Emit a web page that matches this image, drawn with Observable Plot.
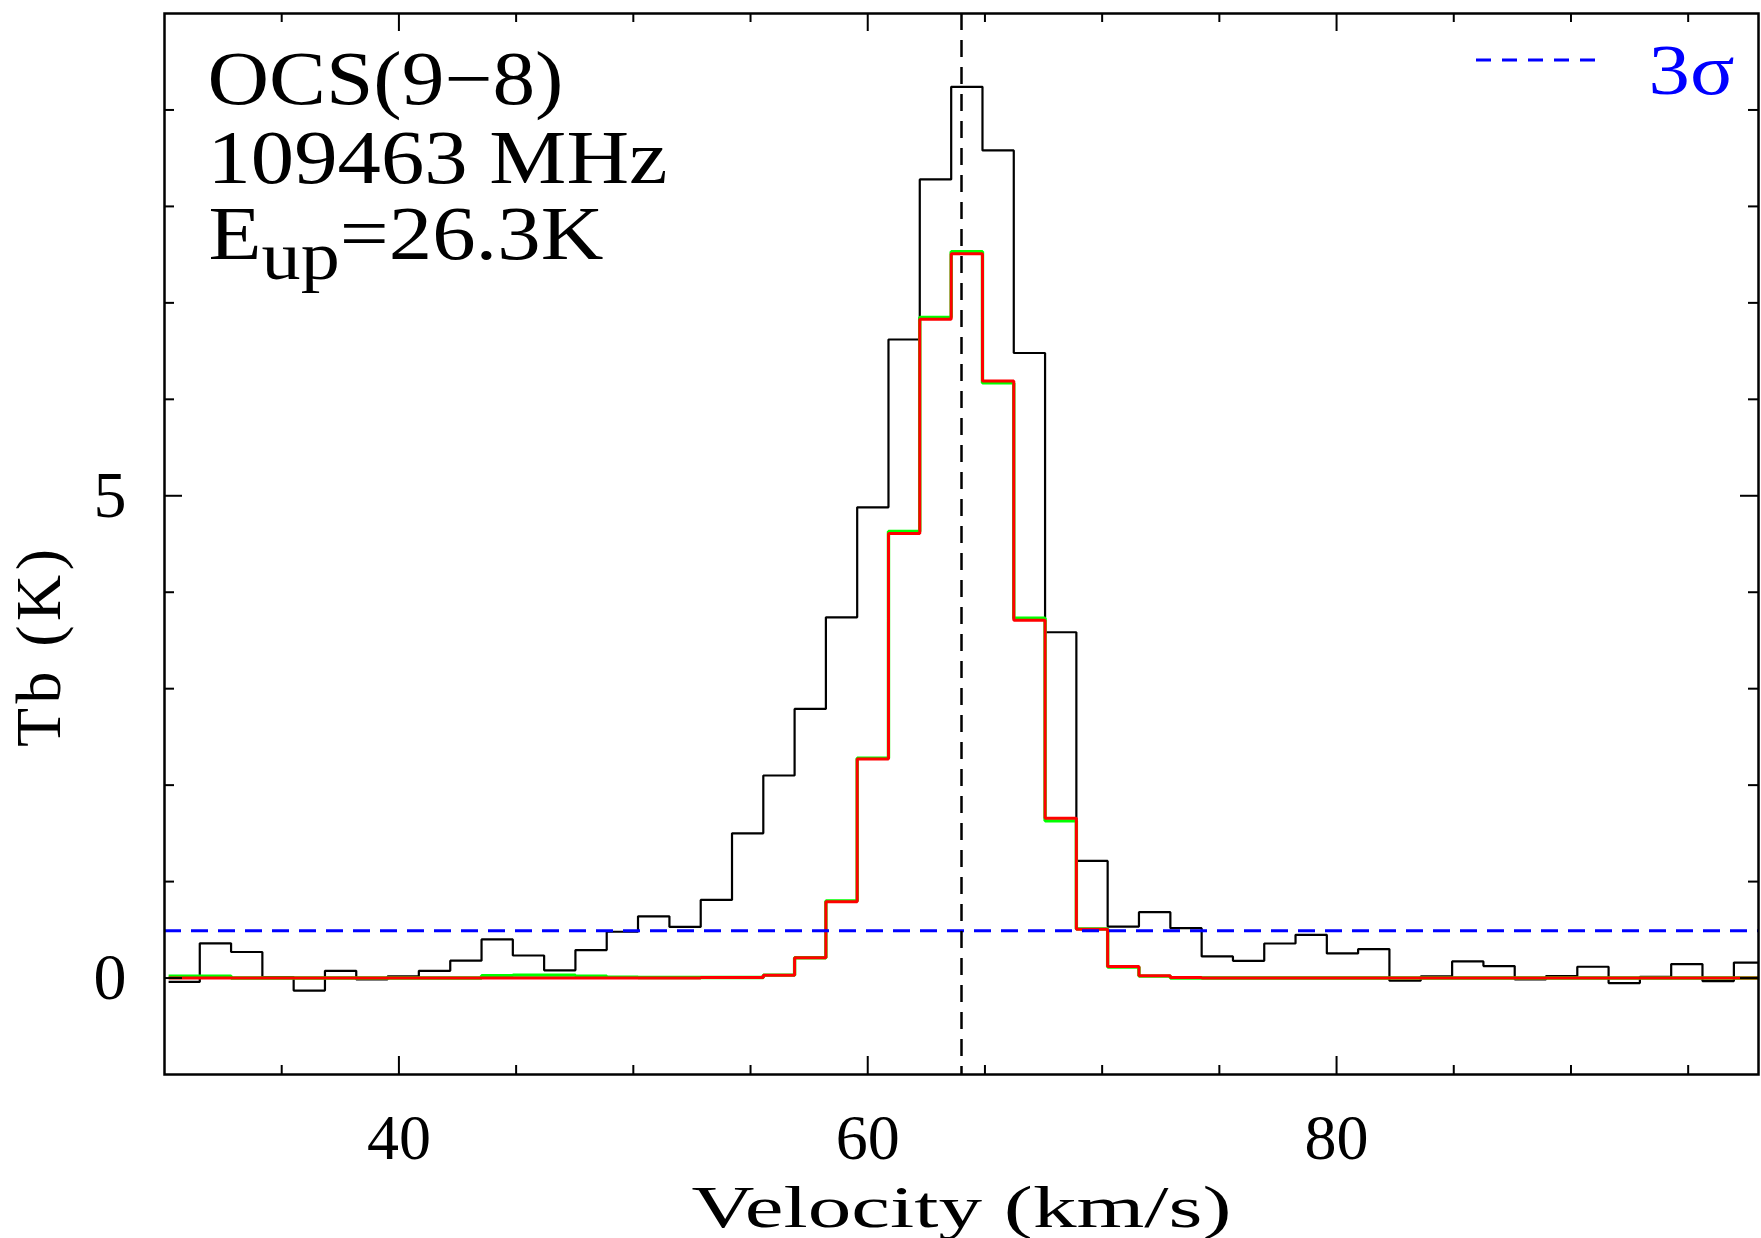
<!DOCTYPE html>
<html>
<head>
<meta charset="utf-8">
<script src="https://cdn.jsdelivr.net/npm/d3@7"></script>
<script src="https://cdn.jsdelivr.net/npm/@observablehq/plot@0.6"></script>
<style>
html, body { margin: 0; padding: 0; background: #ffffff; }
#chart svg { display: block; }
</style>
</head>
<body>
<div id="chart"></div>
<script>
// ---- Data ----
// channel centres (km/s)
const velocity = [30.84, 32.17, 33.51, 34.84, 36.18, 37.51, 38.85, 40.18, 41.52, 42.86,
  44.19, 45.53, 46.86, 48.20, 49.53, 50.87, 52.21, 53.54, 54.88, 56.21,
  57.55, 58.88, 60.22, 61.55, 62.89, 64.23, 65.56, 66.90, 68.23, 69.57,
  70.90, 72.24, 73.58, 74.91, 76.25, 77.58, 78.92, 80.25, 81.59, 82.92,
  84.26, 85.60, 86.93, 88.27, 89.60, 90.94, 92.27, 93.61, 94.94, 96.28, 97.62];
// observed spectrum (black), Tb in K
const tbObserved = [-0.04, 0.36, 0.27, 0.01, -0.13, 0.075, -0.015, 0.017, 0.075, 0.18,
  0.40, 0.234, 0.08, 0.29, 0.48, 0.64, 0.53, 0.81, 1.50, 2.10,
  2.79, 3.74, 4.88, 6.62, 8.28, 9.24, 8.58, 6.48, 3.585, 1.214,
  0.534, 0.683, 0.517, 0.224, 0.179, 0.358, 0.448, 0.255, 0.30, -0.028,
  0.017, 0.172, 0.124, -0.014, 0.02, 0.117, -0.052, 0.013, 0.145, -0.031, 0.16];
// model (green)
const tbModelGreen = [0.02, 0.02, 0.0, 0.0, 0.0, 0.0, 0.0, 0.0, 0.0, 0.0,
  0.025, 0.03, 0.03, 0.02, 0.01, 0.005, 0.005, 0.005, 0.005, 0.03,
  0.21, 0.80, 2.28, 4.63, 6.85, 7.53, 6.17, 3.73, 1.63, 0.51,
  0.115, 0.02, 0.0, 0.0, 0.0, 0.0, 0.0, 0.0, 0.0, 0.0,
  0.0, 0.0, 0.0, 0.0, 0.0, 0.0, 0.0, 0.0, 0.0, 0.0, 0.0];
// model (red)
const tbModelRed = [0.0, 0.0, 0.0, 0.0, 0.0, 0.0, 0.0, 0.0, 0.0, 0.0,
  0.0, 0.0, 0.0, 0.0, 0.0, 0.0, 0.0, 0.005, 0.006, 0.03,
  0.21, 0.79, 2.27, 4.61, 6.83, 7.51, 6.19, 3.71, 1.656, 0.507,
  0.12, 0.024, 0.005, 0.0, 0.0, 0.0, 0.0, 0.0, 0.0, 0.0,
  0.0, 0.0, 0.0, 0.0, 0.0, 0.0, 0.0, 0.0, 0.0, 0.0, 0.0];

const vSys = [64.0];          // vertical dashed line (km/s)
const threeSigma = [0.49];    // 3 sigma level (K)

const xDomain = [30, 98];
const yDomain = [-1, 10];
const xTicksMajor = [40, 60, 80];
const xTicksMinor = [35, 45, 50, 55, 65, 70, 75, 85, 90, 95];
const yTicksMajor = [0, 5];
const yTicksMinor = [1, 2, 3, 4, 6, 7, 8, 9];

const annotationLine1 = "OCS(9\u22128)";
const annotationLine2 = "109463 MHz";
const eupParts = ["E", "up", "=26.3K"];
const xLabel = "Velocity (km/s)";
const yLabel = "Tb (K)";
const legendLabel = "3\u03c3";

// ---- Layout ----
const W = 1761, H = 1238;
const mL = 164, mR = 3, mT = 13, mB = 164;
const innerW = W - mL - mR, innerH = H - mT - mB;
const FONT = "'Liberation Serif', 'DejaVu Serif', serif";

// histogram-style step table built from channel centres
function steps(values) {
  const n = velocity.length;
  const rows = [];
  for (let i = 0; i < n; i++) {
    const lo = i > 0 ? (velocity[i - 1] + velocity[i]) / 2 : velocity[0] - (velocity[1] - velocity[0]) / 2;
    const hi = i < n - 1 ? (velocity[i] + velocity[i + 1]) / 2 : velocity[n - 1] + (velocity[n - 1] - velocity[n - 2]) / 2;
    rows.push({v: lo, tb: values[i]}, {v: hi, tb: values[i]});
  }
  return rows;
}

const lineOpts = {x: "v", y: "tb", clip: true, strokeLinejoin: "miter", strokeLinecap: "butt"};

const chartSvg = Plot.plot({
  width: W, height: H,
  marginLeft: mL, marginRight: mR, marginTop: mT, marginBottom: mB,
  style: {fontFamily: FONT, background: "#ffffff", color: "#000000"},
  x: {domain: xDomain, label: null},
  y: {domain: yDomain, label: null},
  marks: [
    Plot.axisX({ticks: xTicksMajor, tickSize: 0, tickPadding: 39, fontSize: 64, label: null, tickFormat: d => String(d)}),
    Plot.axisY({ticks: yTicksMajor, tickSize: 0, tickPadding: 38, fontSize: 66, label: null, tickFormat: d => String(d)}),
    Plot.line(steps(tbObserved), {...lineOpts, stroke: "#000000", strokeWidth: 2.2}),
    Plot.line(steps(tbModelGreen), {...lineOpts, stroke: "#00ff00", strokeWidth: 3.4}),
    Plot.line(steps(tbModelRed), {...lineOpts, stroke: "#ff0000", strokeWidth: 3.0}),
    Plot.ruleY(threeSigma, {stroke: "#0000ff", strokeWidth: 3, strokeDasharray: "17,10"}),
    Plot.ruleX(vSys, {stroke: "#000000", strokeWidth: 2.5, strokeDasharray: "17,10"}),
    // inward ticks on all four sides
    Plot.ruleX(xTicksMajor, {insetTop: innerH - 18, stroke: "#000", strokeWidth: 2}),
    Plot.ruleX(xTicksMajor, {insetBottom: innerH - 18, stroke: "#000", strokeWidth: 2}),
    Plot.ruleX(xTicksMinor, {insetTop: innerH - 9, stroke: "#000", strokeWidth: 2}),
    Plot.ruleX(xTicksMinor, {insetBottom: innerH - 9, stroke: "#000", strokeWidth: 2}),
    Plot.ruleY(yTicksMajor, {insetRight: innerW - 18, stroke: "#000", strokeWidth: 2}),
    Plot.ruleY(yTicksMajor, {insetLeft: innerW - 18, stroke: "#000", strokeWidth: 2}),
    Plot.ruleY(yTicksMinor, {insetRight: innerW - 10, stroke: "#000", strokeWidth: 2}),
    Plot.ruleY(yTicksMinor, {insetLeft: innerW - 10, stroke: "#000", strokeWidth: 2}),
    Plot.frame({stroke: "#000", strokeWidth: 2.5}),
    // annotations
    Plot.text([annotationLine1], {frameAnchor: "top-left", textAnchor: "start", lineAnchor: "bottom", dx: 43, dy: 90, fontSize: 76, fill: "#000"}),
    Plot.text([annotationLine2], {frameAnchor: "top-left", textAnchor: "start", lineAnchor: "bottom", dx: 43, dy: 169, fontSize: 76, fill: "#000"}),
    Plot.text([eupParts.join("")], {frameAnchor: "top-left", textAnchor: "start", lineAnchor: "bottom", dx: 44, dy: 245, fontSize: 76, fill: "#000"}),
    Plot.text([legendLabel], {frameAnchor: "top-right", textAnchor: "end", lineAnchor: "bottom", dx: -24, dy: 80, fontSize: 72, fill: "#0000ff"}),
    Plot.text([xLabel], {frameAnchor: "bottom", textAnchor: "middle", lineAnchor: "bottom", dy: 152, fontSize: 60, fill: "#000"}),
    Plot.text([yLabel], {frameAnchor: "left", textAnchor: "middle", lineAnchor: "middle", rotate: -90, dx: -125, dy: 104, fontSize: 64, fill: "#000"})
  ]
});

const root = d3.select(chartSvg);
function textNodes(str) {
  return root.selectAll("text").filter(function () { return this.textContent === str; });
}
function fit(str, len, adjust) {
  textNodes(str).attr("textLength", len).attr("lengthAdjust", adjust);
}

// subscript for E_up
const t3 = textNodes(eupParts.join(""));
t3.text(null);
t3.append("tspan").text(eupParts[0]);
t3.append("tspan").attr("dy", 20).attr("font-size", "0.9em").text(eupParts[1]);
t3.append("tspan").attr("dy", -20).text(eupParts[2]);

fit(annotationLine1, 356, "spacingAndGlyphs");
fit(annotationLine2, 460, "spacingAndGlyphs");
fit(eupParts.join(""), 395, "spacingAndGlyphs");
fit(xLabel, 540, "spacingAndGlyphs");
fit(yLabel, 198, "spacing");
fit(legendLabel, 86, "spacingAndGlyphs");

// legend sample line (blue dashed)
const xr = chartSvg.scale("x").range;
const yr = chartSvg.scale("y").range;
const frameRight = Math.max(xr[0], xr[1]);
const frameTop = Math.min(yr[0], yr[1]);
root.append("line")
  .attr("x1", frameRight - 282).attr("x2", frameRight - 162)
  .attr("y1", frameTop + 47).attr("y2", frameTop + 47)
  .attr("stroke", "#0000ff").attr("stroke-width", 3)
  .attr("stroke-dasharray", "15,11");

document.getElementById("chart").appendChild(chartSvg);
</script>
</body>
</html>
